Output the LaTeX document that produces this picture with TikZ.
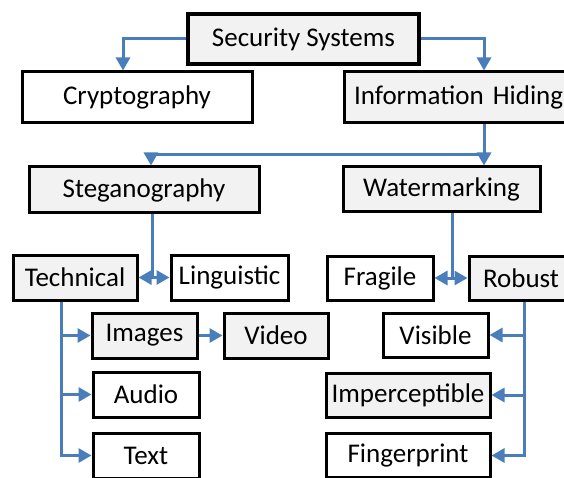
\documentclass[tikz,border=0pt]{standalone}
\usepackage{fontspec}
\setmainfont{Carlito}
\usetikzlibrary{arrows.meta}

\definecolor{linkblue}{RGB}{74,126,187}
\definecolor{boxgray}{RGB}{242,242,242}

\begin{document}
\begin{tikzpicture}[x=1pt,y=-1pt,
  box/.style={draw=black, line width=3pt, fill=white, inner sep=1pt,
    font=\fontsize{27}{32}\selectfont},
  shaded/.style={box, fill=boxgray},
  link/.style={draw=linkblue, line width=3pt, -{Triangle[length=13pt,width=14pt]}}]
\useasboundingbox (0,0) rectangle (564,478);
\clip (0,0) rectangle (564,478);
% top levels
\node[shaded, line width=3.5pt, minimum width=231pt, minimum height=50pt] (sec) at (303.5,39) {Security Systems};
\node[box, minimum width=230pt, minimum height=51pt] (crypt) at (137,97.5) {Cryptography};
\node[shaded, minimum width=280pt, minimum height=51pt, text width=260pt, align=left] (ih) at (484,97.5) {Information Hiding};
\node[shaded, minimum width=230pt, minimum height=46pt] (steg) at (144,190) {Steganography};
\node[shaded, minimum width=197pt, minimum height=45pt] (wm) at (441.5,189.5) {Watermarking};
% steganography side
\node[shaded, minimum width=124pt, minimum height=45pt] (tech) at (75,277.5) {Technical};
\node[box, minimum width=117pt, minimum height=45pt] (ling) at (229.5,277.5) {Linguistic};
\node[shaded, minimum width=105pt, minimum height=45pt] (img) at (144.5,335.5) {Images};
\node[shaded, minimum width=104pt, minimum height=45pt] (vid) at (276,335.5) {Video};
\node[box, minimum width=106pt, minimum height=45pt] (aud) at (146,394.5) {Audio};
\node[box, minimum width=106pt, minimum height=45pt] (txt) at (146,455.5) {Text};
% watermarking side
\node[box, minimum width=106pt, minimum height=44pt] (frag) at (380,278) {Fragile};
\node[shaded, minimum width=111pt, minimum height=44pt, text width=83pt, align=left] (rob) at (524.5,278) {Robust};
\node[box, minimum width=105pt, minimum height=44pt] (vis) at (435.5,335) {Visible};
\node[shaded, minimum width=164pt, minimum height=44pt] (imp) at (408,395) {Imperceptible};
\node[box, minimum width=164pt, minimum height=44pt] (fing) at (408,455.5) {Fingerprint};
% connectors
\draw[link] (sec.west) -| ([xshift=-14pt]crypt.north);
\draw[link] (sec.east) -| (ih.north);
\coordinate (ihsplit) at (484,155);
\draw[link] (ih.south) -- (ihsplit) -| ([xshift=7pt]steg.north);
\draw[link] (ihsplit) -- (wm.north -| ihsplit);
\coordinate (stegsplit) at ([xshift=8pt]steg.south |- tech.east);
\draw[link, -] ([xshift=8pt]steg.south) -- (stegsplit);
\draw[link] (stegsplit) -- (tech.east);
\draw[link] (stegsplit) -- (ling.west);
\coordinate (wmsplit) at ([xshift=10.5pt]wm.south |- frag.east);
\draw[link, -] ([xshift=10.5pt]wm.south) -- (wmsplit);
\draw[link] (wmsplit) -- (frag.east);
\draw[link] (wmsplit) -- (rob.west);
\draw[link] ([xshift=-14pt]tech.south) |- (img.west);
\draw[link] ([xshift=-14pt]tech.south) |- (aud.west);
\draw[link] ([xshift=-14pt]tech.south) |- (txt.west);
\draw[link] (img.east) -- (vid.west);
\draw[link] (rob.south) |- (vis.east);
\draw[link] (rob.south) |- (imp.east);
\draw[link] (rob.south) |- (fing.east);
\end{tikzpicture}
\end{document}
